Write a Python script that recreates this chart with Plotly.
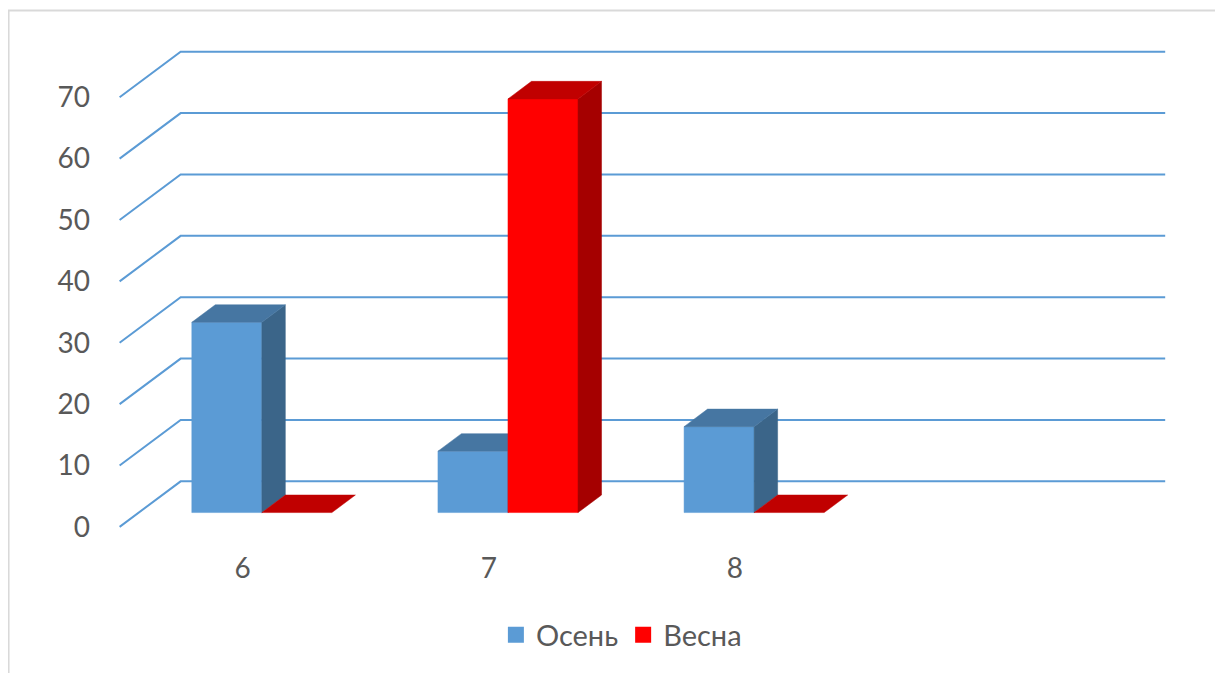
import plotly.graph_objects as go

# ---------------- data ----------------
categories = ["6", "7", "8", ""]
series_names = ["Осень", "Весна"]
autumn = [31, 10, 14, None]
spring = [0, 67.4, 0, None]
y_ticks = [0, 10, 20, 30, 40, 50, 60, 70]

# ---------------- styling / geometry ----------------
FONT = "Lato, Open Sans, sans-serif"
TXT = "#595959"
GRID = "#5B9BD5"
FRONT = ["#5B9BD5", "#FF0000"]
SIDE = ["#3B6589", "#A50000"]
TOP = ["#4676A2", "#C00000"]

PX_X = 246.0       # pixels per category slot
PX_Y = 6.133       # pixels per value unit
FLOOR_DX = 61 / PX_X      # depth offset in x units
FLOOR_DY = 45.5 / PX_Y    # depth offset in value units
Z0, Z1 = 0.314, 0.699     # bar depth extent (fraction of floor depth)
BAR_W = 70 / PX_X

n = len(categories)
X_MAX = n + FLOOR_DX
XA, XB = -0.1, 4.3
YA, YB = -1.0, 79.0
PAGE_OFF = 8                     # default body margin of the html page
ORIGIN_X, ORIGIN_Y = 120 - PAGE_OFF, 527 - PAGE_OFF   # figure pixel of (0,0)

W, H = 1223 - PAGE_OFF, 673 - PAGE_OFF
m_l = ORIGIN_X + XA * PX_X
m_r = W - (ORIGIN_X + XB * PX_X)
m_t = ORIGIN_Y - YB * PX_Y
m_b = H - (ORIGIN_Y - YA * PX_Y)
PW, PH = W - m_l - m_r, H - m_t - m_b

fig = go.Figure()

# gridlines (front-left diagonal + back wall)
gx, gy = [], []
for t in y_ticks:
    gx += [0, FLOOR_DX, X_MAX, None]
    gy += [t, t + FLOOR_DY, t + FLOOR_DY, None]
fig.add_trace(go.Scatter(x=gx, y=gy, mode="lines", line=dict(color=GRID, width=2),
                         hoverinfo="skip", showlegend=False))

# 3D bars
ddx = (Z1 - Z0) * FLOOR_DX
ddy = (Z1 - Z0) * FLOOR_DY
base = Z0 * FLOOR_DY
series = [autumn, spring]
for i in range(n):
    for s, vals in enumerate(series):
        v = vals[i]
        if v is None:
            continue
        xl = i + 0.5 + Z0 * FLOOR_DX - BAR_W + s * BAR_W
        xr = xl + BAR_W
        top = base + v
        faces = []
        if v > 0:
            faces.append(([xl, xr, xr, xl, xl], [base, base, top, top, base], FRONT[s]))
            faces.append(([xr, xr + ddx, xr + ddx, xr, xr],
                          [base, base + ddy, top + ddy, top, base], SIDE[s]))
        faces.append(([xl, xr, xr + ddx, xl + ddx, xl],
                       [top, top, top + ddy, top + ddy, top], TOP[s]))
        for fx, fy, col in faces:
            fig.add_trace(go.Scatter(x=fx, y=fy, mode="lines", fill="toself",
                                     fillcolor=col, line=dict(color=col, width=0.5),
                                     hoverinfo="skip", showlegend=False))

# legend entries
for s, name in enumerate(series_names):
    fig.add_trace(go.Scatter(x=[None], y=[None], mode="markers", name=name,
                             marker=dict(symbol="square", size=18, color=FRONT[s])))

# chart border (left/top visible, right/bottom cropped)
fig.add_shape(type="rect", xref="paper", yref="paper",
              x0=(1 - m_l) / PW, x1=1.2,
              y0=-0.5, y1=(H - 3 - m_b) / PH,
              line=dict(color="#D9D9D9", width=2), fillcolor="rgba(0,0,0,0)", layer="below")

tick_x = [i + 0.5 for i in range(n)]
fig.update_layout(
    width=W, height=H,
    margin=dict(l=m_l, r=m_r, t=m_t, b=m_b, pad=0),
    paper_bgcolor="white", plot_bgcolor="white",
    font=dict(family=FONT, size=28, color=TXT),
    xaxis=dict(range=[XA, XB], tickvals=tick_x, ticktext=categories, showgrid=False,
               zeroline=False, showline=False, ticks="", automargin=False,
               ticklabelstandoff=16, fixedrange=True),
    yaxis=dict(range=[YA, YB], tickvals=y_ticks, ticktext=[str(t) for t in y_ticks],
               showgrid=False, zeroline=False, showline=False, ticks="", automargin=False,
               ticklabelstandoff=4, fixedrange=True),
    legend=dict(orientation="h", x=(613.5 - m_l) / PW, xanchor="center",
                y=(H - m_b - 627) / PH, yanchor="middle",
                font=dict(size=29, color=TXT), itemclick=False),
    showlegend=True,
)

fig.write_html("out.html")
